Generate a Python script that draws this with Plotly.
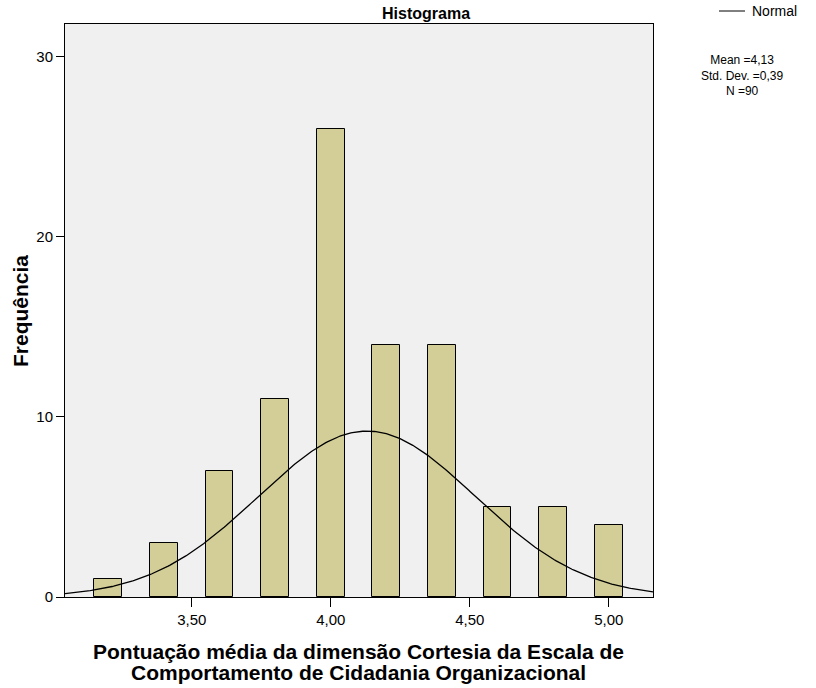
import numpy as np
import plotly.graph_objects as go

# Data
bin_centers = [3.2, 3.4, 3.6, 3.8, 4.0, 4.2, 4.4, 4.6, 4.8, 5.0]
counts = [1, 3, 7, 11, 26, 14, 14, 5, 5, 4]
bin_width = 0.1
mean_val = 4.13
std_val = 0.39
n_val = 90

x_tickvals = [3.5, 4.0, 4.5, 5.0]
x_ticktext = ["3,50", "4,00", "4,50", "5,00"]
y_tickvals = [0, 10, 20, 30]
y_ticktext = ["0", "10", "20", "30"]

x_range = [3.044, 5.159]
y_range = [0, 31.8]

# Fitted normal curve (from displayed mean, sd, N and bin width)
xs = np.linspace(x_range[0], x_range[1], 400)
ys = n_val * bin_width / (std_val * np.sqrt(2 * np.pi)) * np.exp(-0.5 * ((xs - mean_val) / std_val) ** 2)

FONT = "Liberation Sans, Arial, sans-serif"

fig = go.Figure()
fig.add_trace(go.Bar(
    x=bin_centers, y=counts, width=bin_width,
    marker=dict(color="#d3ce97", line=dict(color="#000000", width=1)),
    showlegend=False, hoverinfo="x+y",
))
fig.add_trace(go.Scatter(
    x=xs, y=ys, mode="lines", line=dict(color="#000000", width=1.3),
    name="Normal", showlegend=False, hoverinfo="skip",
))

L, R, T, B = 65, 163, 24, 91
W, H = 816, 688
pw = W - L - R
ph = H - T - B

def px(x):
    return (x - L) / pw

def py(y):
    return (H - B - y) / ph

stats_text = "Mean =4,13<br>Std. Dev. =0,39<br>N =90"

fig.update_layout(
    width=W, height=H,
    margin=dict(l=L, r=R, t=T, b=B, pad=0),
    paper_bgcolor="#ffffff",
    plot_bgcolor="#f0f0f0",
    font=dict(family=FONT, color="#000000"),
    bargap=0,
    xaxis=dict(
        range=x_range, tickvals=x_tickvals, ticktext=x_ticktext,
        ticks="outside", ticklen=9, tickwidth=1, tickcolor="#000000",
        showline=True, linecolor="#000000", linewidth=1, mirror=True,
        showgrid=False, zeroline=False,
        tickfont=dict(size=15, family=FONT),
    ),
    yaxis=dict(
        range=y_range, tickvals=y_tickvals, ticktext=y_ticktext,
        ticks="outside", ticklen=8, tickwidth=1, tickcolor="#000000",
        showline=True, linecolor="#000000", linewidth=1, mirror=True,
        showgrid=False, zeroline=False,
        tickfont=dict(size=15, family=FONT),
    ),
    shapes=[
        dict(type="line", xref="paper", yref="paper",
             x0=px(719), x1=px(745), y0=py(11), y1=py(11),
             line=dict(color="#000000", width=1)),
    ],
    annotations=[
        dict(text="<b>Histograma</b>", xref="paper", yref="paper",
             x=px(426), y=py(14), xanchor="center", yanchor="middle",
             showarrow=False, font=dict(size=16, family=FONT)),
        dict(text="Normal", xref="paper", yref="paper",
             x=px(750), y=py(11), xanchor="left", yanchor="middle",
             showarrow=False, font=dict(size=14, family=FONT)),
        dict(text=stats_text, xref="paper", yref="paper",
             x=px(742), y=py(75.5), xanchor="center", yanchor="middle",
             align="center", showarrow=False,
             font=dict(size=12, family=FONT)),
        dict(text="<b>Pontuação média da dimensão Cortesia da Escala de</b>",
             xref="paper", yref="paper", x=px(358), y=py(651),
             xanchor="center", yanchor="middle", showarrow=False,
             font=dict(size=21, family=FONT)),
        dict(text="<b>Comportamento de Cidadania Organizacional</b>",
             xref="paper", yref="paper", x=px(358), y=py(672),
             xanchor="center", yanchor="middle", showarrow=False,
             font=dict(size=21, family=FONT)),
        dict(text="<b>Frequência</b>", xref="paper", yref="paper",
             x=px(20), y=py(311), xanchor="center", yanchor="middle",
             textangle=-90, showarrow=False,
             font=dict(size=21, family=FONT)),
    ],
)

fig.write_html("out.html")
